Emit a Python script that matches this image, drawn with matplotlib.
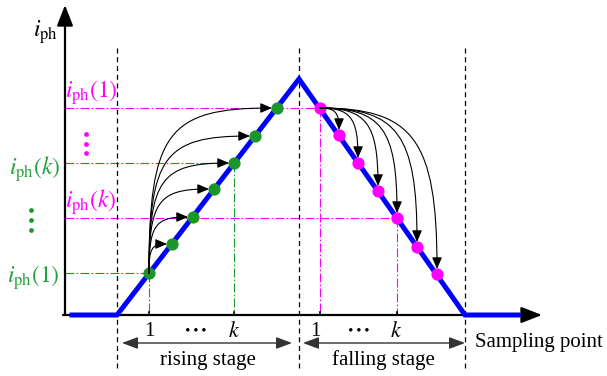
import matplotlib
matplotlib.use("Agg")
import matplotlib.pyplot as plt
from matplotlib.patches import FancyArrowPatch
from matplotlib.path import Path
import numpy as np

plt.rcParams['font.family'] = ['Liberation Serif', 'DejaVu Serif']
plt.rcParams['mathtext.fontset'] = 'stix'

# ---------------- data (schematic units) ----------------
# trapezoidal current waveform
wave_x = [0.7, 5.2, 23.4, 40.0, 45.3]
wave_y = [0.0, 0.0, 23.6, 0.0, 0.0]

# sampled points on rising stage (green) and falling stage (magenta)
rise_x = [8.4, 10.7, 12.8, 14.9, 16.9, 19.0, 21.2]
rise_y = [4.2, 7.1, 9.8, 12.6, 15.2, 17.9, 20.7]
fall_x = [25.5, 27.4, 29.3, 31.3, 33.2, 35.2, 37.2]
fall_y = [20.7, 18.0, 15.2, 12.4, 9.7, 6.8, 4.1]

k_index = 4                       # index of the k-th sample in each stage
stage_bounds = [5.2, 23.4, 40.0]  # dashed boundaries
x_axis_end = 47.7
y_axis_end = 31.0

GREEN = '#1a962a'
GREEN_T = '#23a03c'
MAG = '#ff00ff'
BLUE = '#0000ff'

fig = plt.figure(figsize=(6.07, 3.76), dpi=100)
ax = fig.add_axes([0, 0, 1, 1])
ax.set_xlim(-6.5, 54.2)
ax.set_ylim(-6.1, 31.5)
ax.axis('off')

# axes with arrows
ax.add_patch(FancyArrowPatch((0, 0), (0, y_axis_end), arrowstyle='-|>,head_length=0.9,head_width=0.35',
                             mutation_scale=14, lw=1.6, color='black', shrinkA=0, shrinkB=0, zorder=3))
ax.add_patch(FancyArrowPatch((-0.2, 0), (x_axis_end, 0), arrowstyle='-|>,head_length=0.9,head_width=0.35',
                             mutation_scale=14, lw=1.6, color='black', shrinkA=0, shrinkB=0, zorder=3))

# dashed stage boundaries
for xb in stage_bounds:
    ax.plot([xb, xb], [-5.3, 26.7], color='black', lw=0.9, dashes=(4, 3), zorder=2)

# dash-dot reference lines
dd = dict(lw=0.8, dashes=(8, 2, 1.5, 2), zorder=1)
# magenta i_ph(1) falling
ax.plot([0, fall_x[0]], [fall_y[0], fall_y[0]], color=MAG, **dd)
ax.plot([fall_x[0], fall_x[0]], [fall_y[0], 0], color=MAG, **dd)
# magenta i_ph(k) falling
ax.plot([0, fall_x[k_index]], [fall_y[k_index], fall_y[k_index]], color=MAG, **dd)
ax.plot([fall_x[k_index], fall_x[k_index]], [fall_y[k_index], 0], color=MAG, **dd)
# green i_ph(1) rising
ax.plot([0, rise_x[0]], [rise_y[0], rise_y[0]], color=GREEN, **dd)
ax.plot([rise_x[0], rise_x[0]], [rise_y[0], 0], color=GREEN, **dd)
# green i_ph(k) rising
ax.plot([0, rise_x[k_index]], [rise_y[k_index], rise_y[k_index]], color=GREEN, **dd)
ax.plot([rise_x[k_index], rise_x[k_index]], [rise_y[k_index], 0], color=GREEN, **dd)

# small ticks on baseline
for xt in [rise_x[0], rise_x[k_index], fall_x[0], fall_x[k_index]]:
    ax.plot([xt, xt], [0, 0.35], color='black', lw=1.2, zorder=3)

# waveform
ax.plot(wave_x, wave_y, color=BLUE, lw=3.6, solid_joinstyle='miter', zorder=4)

# sample points
ax.plot(rise_x, rise_y, 'o', color=GREEN, ms=7.8, zorder=5)
ax.plot(fall_x, fall_y, 'o', color=MAG, ms=7.8, zorder=5)

# curved arrows
r = 0.5
astyle = '-|>,head_length=0.7,head_width=0.3'
def curve(p0, p3, vertical_first, kf):
    x0, y0 = p0
    x3, y3 = p3
    if vertical_first:
        p1 = (x0, y0 + kf * (y3 - y0))
        p2 = (x3 - kf * (x3 - x0), y3)
    else:
        p1 = (x0 + kf * (x3 - x0), y0)
        p2 = (x3, y3 - kf * (y3 - y0))
    path = Path([p0, p1, p2, p3], [Path.MOVETO, Path.CURVE4, Path.CURVE4, Path.CURVE4])
    ax.add_patch(FancyArrowPatch(path=path, arrowstyle=astyle, mutation_scale=10,
                                 lw=0.8, color='black', zorder=6))

for xj, yj in zip(rise_x[1:], rise_y[1:]):
    curve((rise_x[0], rise_y[0]), (xj - r, yj), True, 0.85)
for xj, yj in zip(fall_x[1:], fall_y[1:]):
    curve((fall_x[0], fall_y[0]), (xj, yj + r), False, 0.8)

# labels
fs = 15
fm = 17
ax.text(-0.7, 28.3, r'$i_{\mathrm{ph}}$', fontsize=fm, ha='right', va='center')
ax.text(0.0, 22.2, r'$i_{\mathrm{ph}}(1)$', fontsize=fm, ha='left', va='center', color=MAG)
ax.text(0.0, 11.3, r'$i_{\mathrm{ph}}(k)$', fontsize=fm, ha='left', va='center', color=MAG)
ax.text(-0.5, 14.6, r'$i_{\mathrm{ph}}(k)$', fontsize=fm, ha='right', va='center', color=GREEN_T)
ax.text(-0.5, 3.7, r'$i_{\mathrm{ph}}(1)$', fontsize=fm, ha='right', va='center', color=GREEN_T)
ax.plot([-3.4, -3.4, -3.4], [10.5, 9.5, 8.5], 'o', color=GREEN, ms=2.4)
ax.plot([2.1, 2.1, 2.1], [18.1, 17.1, 16.2], 'o', color=MAG, ms=2.4)

# sample labels on the x axis
ax.text(rise_x[0], -1.7, '1', fontsize=fs, ha='center', va='center')
ax.text(12.9, -1.35, r'$\cdots$', fontsize=20, ha='center', va='center')
ax.text(rise_x[k_index], -1.7, r'$k$', fontsize=fs + 1, ha='center', va='center')
ax.text(25.0, -1.7, '1', fontsize=fs, ha='center', va='center')
ax.text(29.2, -1.35, r'$\cdots$', fontsize=20, ha='center', va='center')
ax.text(fall_x[k_index] - 0.1, -1.7, r'$k$', fontsize=fs + 1, ha='center', va='center')

# stage arrows
dstyle = '<|-|>,head_length=0.8,head_width=0.3'
ax.add_patch(FancyArrowPatch((5.7, -2.8), (22.7, -2.8), arrowstyle=dstyle, mutation_scale=12,
                             lw=1.0, color='#333333', shrinkA=0, shrinkB=0))
ax.add_patch(FancyArrowPatch((23.8, -2.8), (40.0, -2.8), arrowstyle=dstyle, mutation_scale=12,
                             lw=1.0, color='#333333', shrinkA=0, shrinkB=0))
ax.text(14.3, -4.5, 'rising stage', fontsize=fs, ha='center', va='center')
ax.text(31.8, -4.5, 'falling stage', fontsize=fs, ha='center', va='center')
ax.text(41.0, -2.7, 'Sampling point', fontsize=fs, ha='left', va='center')

fig.savefig('out.png', dpi=100)
